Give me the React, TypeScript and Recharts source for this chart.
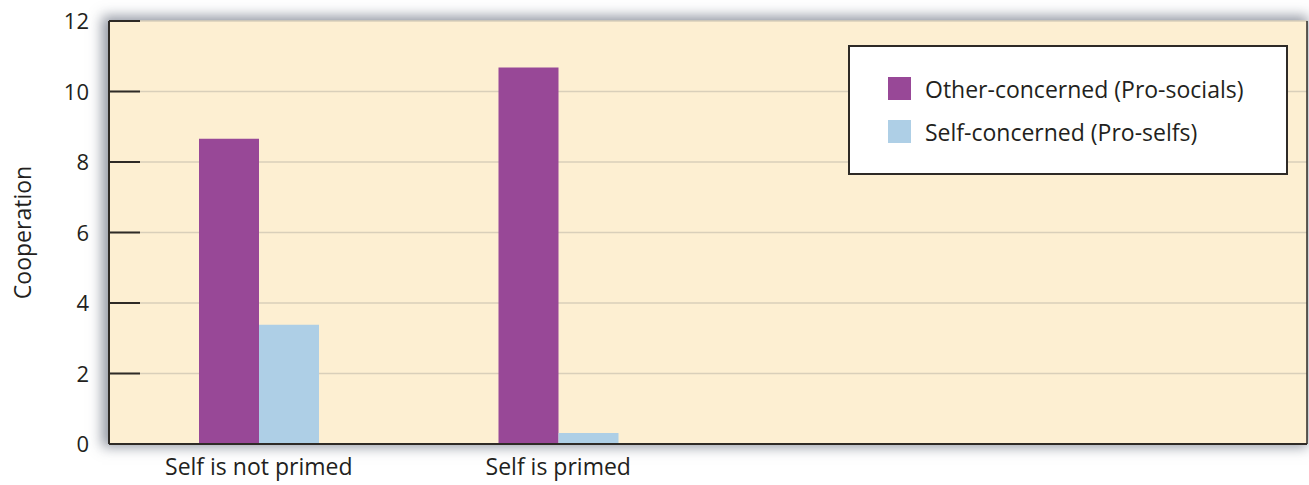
import React from 'react'
import { BarChart, Bar, XAxis, YAxis, CartesianGrid } from 'recharts'

const categories = ['Self is not primed', 'Self is primed', '', ' ']
const proSocials = [8.66, 10.68, null, null]
const proSelfs = [3.38, 0.31, null, null]
const yTicks = [0, 2, 4, 6, 8, 10, 12]
const seriesNames = ['Other-concerned (Pro-socials)', 'Self-concerned (Pro-selfs)']

const data = categories.map((name, i) => ({
  name,
  proSocial: proSocials[i],
  proSelf: proSelfs[i],
}))

const FONT = '"Open Sans", "Noto Sans", sans-serif'
const PURPLE = '#984897'
const BLUE = '#aecfe6'
const INK = '#231f20'

const W = 1309
const H = 485
const LEFT = 109
const TOP = 21
const RIGHT = 2
const XH = 41

const YTick = (props: any) => {
  const { x, y, payload } = props
  return (
    <g>
      <line x1={x + 20} x2={x + 51} y1={y} y2={y} stroke="#2e2a26" strokeWidth={2} />
      <text x={x} y={y} dy={8} textAnchor="end" fill={INK} fontSize={22} fontFamily={FONT}>
        {payload.value}
      </text>
    </g>
  )
}

const YLabel = (props: any) => {
  const { viewBox } = props
  const cy = viewBox.y + viewBox.height / 2
  return (
    <text
      x={22}
      y={cy}
      transform={`rotate(-90 22 ${cy})`}
      textAnchor="middle"
      dominantBaseline="central"
      fill={INK}
      fontSize={23}
      fontFamily={FONT}
    >
      Cooperation
    </text>
  )
}

const LegendBox = () => (
  <div
    style={{
      position: 'absolute',
      left: 848,
      top: 45,
      background: '#fff',
      border: '2px solid #2e2a26',
      width: 440,
      height: 130,
      boxSizing: 'border-box',
      padding: '20px 0 0 38px',
      fontFamily: FONT,
      fontSize: 23,
      color: INK,
    }}
  >
    {seriesNames.map((label, i) => (
      <div key={label} style={{ display: 'flex', alignItems: 'center', height: 43 }}>
        <span style={{ width: 23, height: 23, background: i === 0 ? PURPLE : BLUE, marginRight: 14 }} />
        <span>{label}</span>
      </div>
    ))}
  </div>
)

export default function App() {
  return (
    <div style={{ position: 'absolute', left: 0, top: 0, width: W, height: H, background: '#fff' }}>
      <div
        style={{
          position: 'absolute',
          left: LEFT,
          top: TOP,
          width: W - LEFT - RIGHT,
          height: H - TOP - XH,
          background: '#fdefd2',
          boxShadow: '-3px -1px 12px 4px rgba(60,70,90,0.55)',
        }}
      />
      <div style={{ position: 'absolute', left: 0, top: 0 }}>
        <BarChart
          width={W}
          height={H}
          data={data}
          margin={{ top: TOP, right: RIGHT, left: 0, bottom: 0 }}
          barGap={0}
          barCategoryGap={90}
        >
          <CartesianGrid vertical={false} stroke="#d9cfba" strokeWidth={1.5} />
          <XAxis
            dataKey="name"
            height={XH}
            tickLine={false}
            axisLine={{ stroke: '#2e2a26', strokeWidth: 2 }}
            tick={{ fill: INK, fontSize: 23, fontFamily: FONT }}
            tickMargin={9}
            interval={0}
          />
          <YAxis
            width={LEFT}
            domain={[0, 12]}
            ticks={yTicks}
            tickLine={false}
            tickSize={0}
            tickMargin={20}
            axisLine={{ stroke: '#2e2a26', strokeWidth: 2 }}
            tick={<YTick />}
            label={<YLabel />}
          />
          <Bar dataKey="proSocial" fill={PURPLE} isAnimationActive={false} />
          <Bar dataKey="proSelf" fill={BLUE} isAnimationActive={false} />
          <line x1={W - RIGHT} x2={W - RIGHT} y1={TOP} y2={H - XH} stroke="#2e2a26" strokeWidth={1.5} />
        </BarChart>
      </div>
      <LegendBox />
    </div>
  )
}
